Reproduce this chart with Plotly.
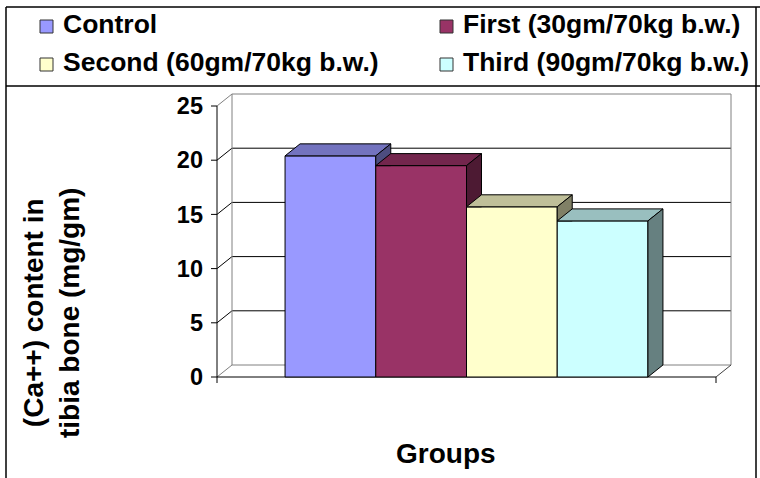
import plotly.graph_objects as go

# ---- data -------------------------------------------------------------
groups = ["Control", "First (30gm/70kg b.w.)", "Second (60gm/70kg b.w.)", "Third (90gm/70kg b.w.)"]
calcium = [20.4, 19.5, 15.7, 14.4]          # (Ca++) content in tibia bone, mg/gm
y_ticks = [0, 5, 10, 15, 20, 25]
y_title = "(Ca++) content in<br>tibia bone (mg/gm)"
x_title = "Groups"

# ---- styling ----------------------------------------------------------
front_colors = ["#9999FF", "#993366", "#FFFFCC", "#CCFFFF"]
top_colors = ["#7373BF", "#73264D", "#BFBF99", "#99BFBF"]
side_colors = ["#4D4D80", "#4D1A33", "#808066", "#668080"]
GREY = "#808080"
FONT = "Liberation Sans, Arial, sans-serif"

W, H = 760, 478
PLOT_L, PLOT_R, PLOT_T, PLOT_B = 209, 732, 93, 384   # plotting area in pixels
FRONT_X0, FRONT_X1 = 217, 716                         # front edge of the floor
ZERO_Y, TOP_Y = 377, 106                              # front positions of 0 and 25
DEPTH_X, DEPTH_Y = 15, 12                             # 3-D depth offset in pixels

GAP = 0.75                                            # gap beside the bar block
CAT_LO, CAT_HI = -0.5 - GAP, len(calcium) - 0.5 + GAP
sx = (FRONT_X1 - FRONT_X0) / (CAT_HI - CAT_LO)
sy = (ZERO_Y - TOP_Y) / y_ticks[-1]
x_range = [CAT_LO - (FRONT_X0 - PLOT_L) / sx, CAT_HI + (PLOT_R - FRONT_X1) / sx]
y_range = [-(PLOT_B - ZERO_Y) / sy, y_ticks[-1] + (TOP_Y - PLOT_T) / sy]
DX, DY = DEPTH_X / sx, DEPTH_Y / sy
TICK_X, TICK_Y = 6 / sx, 6 / sy


def px(xp):
    return (xp - PLOT_L) / (PLOT_R - PLOT_L)


def py(yp):
    return (PLOT_B - yp) / (PLOT_B - PLOT_T)


def seg(x0, y0, x1, y1, color="black", width=1, paper=False, layer="below"):
    ref = "paper" if paper else None
    return dict(type="line", xref=ref or "x", yref=ref or "y",
                x0=x0, y0=y0, x1=x1, y1=y1,
                line=dict(color=color, width=width), layer=layer)


def clip_above(poly, yc):
    """Keep the part of a polygon with y >= yc."""
    out = []
    n = len(poly)
    for k in range(n):
        (x0, y0), (x1, y1) = poly[k], poly[(k + 1) % n]
        in0, in1 = y0 >= yc, y1 >= yc
        if in0:
            out.append((x0, y0))
        if in0 != in1:
            t = (yc - y0) / (y1 - y0)
            out.append((x0 + t * (x1 - x0), yc))
    return out


fig = go.Figure()

# front faces of the columns
for i, (name, v) in enumerate(zip(groups, calcium)):
    fig.add_trace(go.Bar(
        x=[i], y=[v], width=1, name=name, showlegend=False,
        marker=dict(color=front_colors[i], line=dict(color="black", width=1)),
        hoverinfo="name+y",
    ))

# top and side faces, drawn column by column from left to right
for i, v in enumerate(calcium):
    xl, xr = i - 0.5, i + 0.5
    top = [(xl, v), (xr, v), (xr + DX, v + DY), (xl + DX, v + DY)]
    side = [(xr, 0), (xr, v), (xr + DX, v + DY), (xr + DX, DY)]
    if i + 1 < len(calcium):
        side = clip_above(side, calcium[i + 1])
    for poly, col in ((top, top_colors[i]), (side, side_colors[i])):
        if len(poly) < 3:
            continue
        xs = [p[0] for p in poly] + [poly[0][0]]
        ys = [p[1] for p in poly] + [poly[0][1]]
        fig.add_trace(go.Scatter(
            x=xs, y=ys, mode="lines", fill="toself", fillcolor=col,
            line=dict(color="black", width=1), showlegend=False, hoverinfo="skip",
        ))

# walls, gridlines and axis lines
shapes = []
bx0, bx1 = CAT_LO + DX, CAT_HI + DX
ymax = y_ticks[-1]
for k in y_ticks:
    inner = 0 < k < ymax
    shapes.append(seg(CAT_LO, k, bx0, k + DY, "black" if inner else GREY))
    shapes.append(seg(bx0, k + DY, bx1, k + DY, "black" if inner else GREY))
    shapes.append(seg(CAT_LO - TICK_X, k, CAT_LO, k))
shapes.append(seg(bx0, DY, bx0, ymax + DY, GREY))
shapes.append(seg(bx1, DY, bx1, ymax + DY, GREY))
shapes.append(seg(CAT_HI, 0, bx1, DY, "#404040"))
shapes.append(seg(CAT_LO, -TICK_Y, CAT_LO, ymax))
shapes.append(seg(CAT_LO, 0, CAT_HI, 0))
shapes.append(seg(CAT_HI, -TICK_Y, CAT_HI, 0))

# outer frame and legend box
shapes.append(seg(px(6), py(7), px(760), py(7), "black", 1.5, True, "above"))
shapes.append(seg(px(6), py(86), px(760), py(86), "black", 1.5, True, "above"))
shapes.append(seg(px(6), py(7), px(6), py(478), "black", 1.5, True, "above"))
shapes.append(seg(px(756), py(7), px(756), py(478), "black", 1.5, True, "above"))

annotations = []
legend_pos = [(40, 20), (440, 20), (40, 58), (440, 58)]
for (lx, ly), name, col in zip(legend_pos, groups, front_colors):
    shapes.append(dict(type="rect", xref="paper", yref="paper",
                       x0=px(lx), x1=px(lx + 13), y0=py(ly), y1=py(ly + 13),
                       fillcolor=col, line=dict(color="#333333", width=1), layer="above"))
    annotations.append(dict(
        x=px(lx + 21), y=py(ly + 4.5), xref="paper", yref="paper",
        xanchor="left", yanchor="middle", showarrow=False, text=name,
        font=dict(family=FONT, size=26.5, color="black", weight="bold"),
    ))

annotations.append(dict(
    x=px(51), y=py(313), xref="paper", yref="paper", xanchor="center", yanchor="middle",
    showarrow=False, text=y_title, textangle=-90,
    font=dict(family=FONT, size=28, color="black", weight="bold"),
))
annotations.append(dict(
    x=px(446), y=py(453), xref="paper", yref="paper", xanchor="center", yanchor="middle",
    showarrow=False, text=x_title,
    font=dict(family=FONT, size=28, color="black", weight="bold"),
))

fig.update_layout(
    width=W, height=H, autosize=False,
    margin=dict(l=PLOT_L, r=W - PLOT_R, t=PLOT_T, b=H - PLOT_B, pad=0),
    paper_bgcolor="white", plot_bgcolor="white",
    barmode="overlay", showlegend=False,
    shapes=shapes, annotations=annotations,
    xaxis=dict(range=x_range, visible=False, fixedrange=True),
    yaxis=dict(range=y_range, tickvals=y_ticks, ticks="", showgrid=False,
               zeroline=False, showline=False, ticklabelstandoff=5,
               tickfont=dict(family=FONT, size=23.5, color="black", weight="bold"),
               fixedrange=True),
)

fig.write_html("out.html")
